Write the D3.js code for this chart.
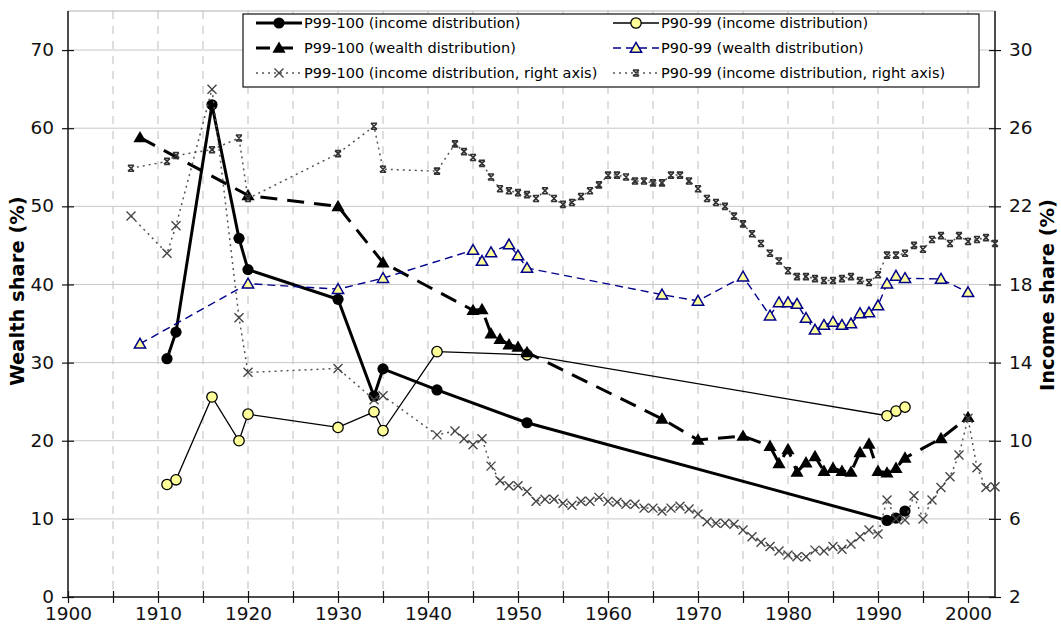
<!DOCTYPE html>
<html>
<head>
<meta charset="utf-8">
<script src="https://cdn.jsdelivr.net/npm/d3@7"></script>
<style>
  body { margin: 0; background: #fff; }
  svg { display: block; font-family: "DejaVu Sans", sans-serif; }
</style>
</head>
<body>
<svg class="canvas" width="1061" height="640"></svg>
<script>
// ---- data ----
const incYears = [1911, 1912, 1916, 1919, 1920, 1930, 1934, 1935, 1941, 1951, 1991, 1992, 1993];
const incTop = [30.5, 33.9, 63.0, 45.9, 41.9, 38.1, 25.7, 29.2, 26.5, 22.3, 9.8, 10.1, 11.0];
const incNext = [14.4, 15.0, 25.6, 20.0, 23.4, 21.7, 23.7, 21.3, 31.4, 31.0, 23.2, 23.8, 24.3];

const wealthTopYears = [1908, 1920, 1930, 1935, 1945, 1946, 1947, 1948, 1949, 1950, 1951, 1966, 1970, 1975,
  1978, 1979, 1980, 1981, 1982, 1983, 1984, 1985, 1986, 1987, 1988, 1989, 1990, 1991, 1992, 1993, 1997, 2000];
const wealthTop = [58.8, 51.4, 50.0, 42.8, 36.7, 36.8, 33.7, 33.0, 32.3, 32.0, 31.3, 22.8, 20.1, 20.6,
  19.3, 17.1, 18.9, 16.0, 17.2, 18.0, 16.1, 16.5, 16.1, 16.0, 18.5, 19.6, 16.1, 15.9, 16.5, 17.8, 20.3, 23.0];

const wealthNextYears = [1908, 1920, 1930, 1935, 1945, 1946, 1947, 1949, 1950, 1951, 1966, 1970, 1975,
  1978, 1979, 1980, 1981, 1982, 1983, 1984, 1985, 1986, 1987, 1988, 1989, 1990, 1991, 1992, 1993, 1997, 2000];
const wealthNext = [32.4, 40.1, 39.4, 40.8, 44.4, 43.0, 44.1, 45.1, 43.7, 42.1, 38.7, 37.9, 41.0,
  36.0, 37.7, 37.7, 37.5, 35.7, 34.2, 34.8, 35.2, 34.8, 35.0, 36.3, 36.4, 37.3, 40.1, 41.1, 40.8, 40.7, 39.0];

// right axis series: 1907..1941 sparse, then yearly 1943-2003
const rightYears = [1907, 1911, 1912, 1916, 1919, 1920, 1930, 1934, 1935, 1941,
  1943, 1944, 1945, 1946, 1947, 1948, 1949, 1950, 1951, 1952, 1953, 1954, 1955, 1956, 1957, 1958, 1959,
  1960, 1961, 1962, 1963, 1964, 1965, 1966, 1967, 1968, 1969, 1970, 1971, 1972, 1973, 1974, 1975, 1976,
  1977, 1978, 1979, 1980, 1981, 1982, 1983, 1984, 1985, 1986, 1987, 1988, 1989, 1990, 1991, 1992, 1993,
  1994, 1995, 1996, 1997, 1998, 1999, 2000, 2001, 2002, 2003];
const incTopRight = [21.5, 19.6, 21.0, 28.0, 16.3, 13.5, 13.7, 12.1, 12.3, 10.3,
  10.5, 10.1, 9.8, 10.1, 8.7, 7.95, 7.7, 7.7, 7.4, 6.9, 7.0, 7.0, 6.8, 6.7, 6.9, 6.9, 7.1,
  6.9, 6.85, 6.75, 6.75, 6.55, 6.55, 6.4, 6.55, 6.65, 6.5, 6.25, 5.85, 5.77, 5.77, 5.72, 5.43, 5.09,
  4.8, 4.58, 4.36, 4.15, 4.06, 4.06, 4.4, 4.36, 4.58, 4.44, 4.71, 5.09, 5.43, 5.22, 6.97, 5.99, 5.94,
  7.18, 5.99, 6.97, 7.6, 8.16, 9.27, 11.15, 8.62, 7.6, 7.65];
const incNextRight = [23.95, 24.3, 24.6, 24.9, 25.5, 22.4, 24.7, 26.1, 23.9, 23.8,
  25.2, 24.8, 24.5, 24.2, 23.5, 22.9, 22.8, 22.7, 22.6, 22.4, 22.8, 22.4, 22.1, 22.2, 22.5, 22.8, 23.1,
  23.6, 23.6, 23.5, 23.3, 23.3, 23.2, 23.2, 23.6, 23.6, 23.3, 22.9, 22.4, 22.2, 22.0, 21.5, 21.1, 20.6,
  20.1, 19.6, 19.2, 18.7, 18.4, 18.4, 18.3, 18.2, 18.2, 18.3, 18.4, 18.2, 18.1, 18.5, 19.5, 19.5, 19.6,
  20.0, 19.8, 20.3, 20.5, 20.1, 20.5, 20.2, 20.3, 20.4, 20.1];

const leftTicks = [0, 10, 20, 30, 40, 50, 60, 70];
const rightTicks = [2, 6, 10, 14, 18, 22, 26, 30];
const legendLabels = [
  "P99-100 (income distribution)", "P90-99 (income distribution)",
  "P99-100 (wealth distribution)", "P90-99 (wealth distribution)",
  "P99-100 (income distribution, right axis)", "P90-99 (income distribution, right axis)"
];

// ---- layout ----
const svg = d3.select(".canvas");
const margin = { top: 11, bottom: 43, left: 68, right: 66 };
const graphWidth = 1061 - margin.left - margin.right;
const graphHeight = 640 - margin.top - margin.bottom;

const graph = svg.append("g")
  .attr("transform", `translate(${margin.left}, ${margin.top})`);

const x = d3.scaleLinear().domain([1900, 2003]).range([0, graphWidth]);
const yL = d3.scaleLinear().domain([0, 75]).range([graphHeight, 0]);
const yR = d3.scaleLinear().domain([2, 32]).range([graphHeight, 0]);

const xTicks = d3.range(1900, 2001, 5);

// grid
graph.append("g").selectAll("line").data(leftTicks.slice(1)).enter().append("line")
  .attr("x1", 0).attr("x2", graphWidth)
  .attr("y1", d => yL(d)).attr("y2", d => yL(d))
  .attr("stroke", "#c8c8c8").attr("stroke-width", 1);
graph.append("g").selectAll("line").data(xTicks.slice(1)).enter().append("line")
  .attr("x1", d => x(d)).attr("x2", d => x(d))
  .attr("y1", 0).attr("y2", graphHeight)
  .attr("stroke", "#c8c8c8").attr("stroke-width", 1.2)
  .attr("stroke-dasharray", "8,7");
graph.append("line")
  .attr("x1", 0).attr("x2", graphWidth).attr("y1", 0).attr("y2", 0)
  .attr("stroke", "#b0b0b0");

// axes
const xAxis = d3.axisBottom(x).tickValues(xTicks).tickSize(6)
  .tickFormat(d => d % 10 === 0 ? d : "");
const yAxisL = d3.axisLeft(yL).tickValues(leftTicks).tickSize(6);
const yAxisR = d3.axisRight(yR).tickValues(rightTicks).tickSize(6);

const xAxisGroup = graph.append("g").attr("transform", `translate(0,${graphHeight})`).call(xAxis);
const yAxisGroupL = graph.append("g").call(yAxisL);
const yAxisGroupR = graph.append("g").attr("transform", `translate(${graphWidth},0)`).call(yAxisR);

[xAxisGroup, yAxisGroupL, yAxisGroupR].forEach(g => {
  g.select(".domain").remove();
  g.selectAll("text").attr("font-size", 18.5).attr("fill", "#111")
    .style("font-family", "'DejaVu Sans', sans-serif");
  g.selectAll(".tick line").attr("stroke", "#111").attr("stroke-width", 1.2);
});
xAxisGroup.selectAll(".tick line").attr("y1", -6).attr("y2", 6);
xAxisGroup.selectAll("text").attr("y", 10);
yAxisGroupL.selectAll(".tick line").attr("x1", 6).attr("x2", -6);
yAxisGroupL.selectAll("text").attr("x", -14).attr("dy", "0.3em");
yAxisGroupR.selectAll(".tick line").attr("x1", -6).attr("x2", 6);
yAxisGroupR.selectAll("text").attr("x", 14).attr("dy", "0.3em");

graph.append("line").attr("x1", 0).attr("x2", graphWidth)
  .attr("y1", graphHeight).attr("y2", graphHeight).attr("stroke", "#111").attr("stroke-width", 1.5);
graph.append("line").attr("x1", 0).attr("x2", 0)
  .attr("y1", 0).attr("y2", graphHeight).attr("stroke", "#111").attr("stroke-width", 1.5);
graph.append("line").attr("x1", graphWidth).attr("x2", graphWidth)
  .attr("y1", 0).attr("y2", graphHeight).attr("stroke", "#111").attr("stroke-width", 1.5);

// axis titles
svg.append("text")
  .attr("transform", `translate(24, 291) rotate(-90)`)
  .attr("text-anchor", "middle").attr("font-size", 19.5).attr("font-weight", "bold")
  .text("Wealth share (%)");
svg.append("text")
  .attr("transform", `translate(1054, 295) rotate(-90)`)
  .attr("text-anchor", "middle").attr("font-size", 19.5).attr("font-weight", "bold")
  .text("Income share (%)");

// markers
const tri = d3.symbol().type(d3.symbolTriangle);
const markers = {
  dot: g => g.append("circle").attr("r", 5.6).attr("fill", "#000"),
  ring: g => g.append("circle").attr("r", 5.2).attr("fill", "#ffff99").attr("stroke", "#000").attr("stroke-width", 1.3),
  triBlack: g => g.append("path").attr("d", tri.size(75)()).attr("transform", "translate(0,1)").attr("fill", "#000"),
  triBlue: g => g.append("path").attr("d", tri.size(55)()).attr("transform", "translate(0,1)")
    .attr("fill", "#ffff99").attr("stroke", "#00008b").attr("stroke-width", 1.5),
  cross: g => g.append("path").attr("d", "M-4.5,-4.5L4.5,4.5M-4.5,4.5L4.5,-4.5")
    .attr("stroke", "#444").attr("stroke-width", 1.4).attr("fill", "none"),
  star: g => g.append("path").attr("d", "M-3,-3L3,3M-3,3L3,-3M-3,-3L3,-3M-3,3L3,3")
    .attr("stroke", "#333").attr("stroke-width", 1.6).attr("fill", "none")
};

const series = [
  { years: incYears, values: incTop, y: yL, stroke: "#000", width: 3, dash: null, marker: "dot" },
  { years: incYears, values: incNext, y: yL, stroke: "#000", width: 1.3, dash: null, marker: "ring" },
  { years: wealthTopYears, values: wealthTop, y: yL, stroke: "#000", width: 3, dash: "17,10", marker: "triBlack" },
  { years: wealthNextYears, values: wealthNext, y: yL, stroke: "#00008b", width: 1.4, dash: "8,5", marker: "triBlue" },
  { years: rightYears, values: incTopRight, y: yR, stroke: "#555", width: 1.5, dash: "2,4", marker: "cross" },
  { years: rightYears, values: incNextRight, y: yR, stroke: "#555", width: 1.5, dash: "2,4", marker: "star" }
];

series.forEach(s => {
  const pts = s.years.map((yr, i) => [yr, s.values[i]]);
  const line = d3.line().x(d => x(d[0])).y(d => s.y(d[1]));
  graph.append("path").datum(pts)
    .attr("d", line).attr("fill", "none")
    .attr("stroke", s.stroke).attr("stroke-width", s.width)
    .attr("stroke-dasharray", s.dash);
  graph.append("g").selectAll("g").data(pts).enter().append("g")
    .attr("transform", d => `translate(${x(d[0])},${s.y(d[1])})`)
    .each(function () { markers[s.marker](d3.select(this)); });
});

// legend
const legend = svg.append("g").attr("transform", "translate(243,14)");
legend.append("rect").attr("width", 736).attr("height", 73)
  .attr("fill", "#fff").attr("stroke", "#111").attr("stroke-width", 1.2);
legendLabels.forEach((label, i) => {
  const s = series[i];
  const col = i % 2, row = Math.floor(i / 2);
  const lx = col === 0 ? 13 : 370;
  const ly = 9 + row * 25;
  const item = legend.append("g").attr("transform", `translate(${lx},${ly})`);
  item.append("line").attr("x1", 0).attr("x2", 46).attr("y1", 0).attr("y2", 0)
    .attr("stroke", s.stroke).attr("stroke-width", s.width)
    .attr("stroke-dasharray", s.dash === "17,10" ? "14,9" : s.dash);
  markers[s.marker](item.append("g").attr("transform", "translate(23,0)"));
  item.append("text").attr("x", 48).attr("y", 0).attr("dy", "0.35em")
    .attr("font-size", 14.5).style("font-family", "'DejaVu Sans', sans-serif")
    .text(label);
});
</script>
</body>
</html>
